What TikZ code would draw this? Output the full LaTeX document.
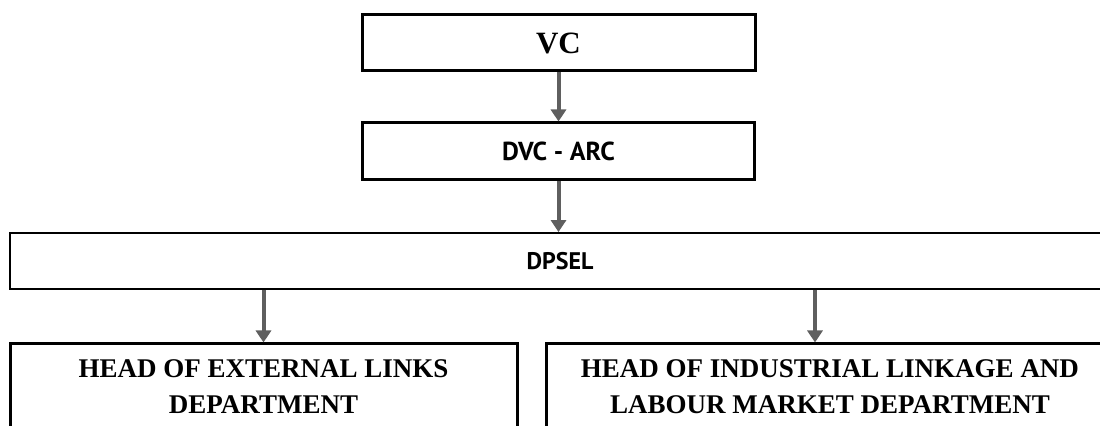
\documentclass[tikz,border=0pt]{standalone}
\usepackage{fontspec}
\setmainfont{Liberation Serif}
\newfontfamily\boxsans{PT Sans}
\usetikzlibrary{arrows.meta}
\definecolor{arrowgray}{HTML}{5F5F5F}
\begin{document}
\begin{tikzpicture}[x=0.5pt,y=-0.5pt,
  box/.style={draw, line width=1.5pt, inner sep=0pt, align=center},
  thinbox/.style={draw, line width=0.9pt, inner sep=0pt},
  link/.style={draw=arrowgray, line width=2pt, -{Triangle[length=6pt,width=7.5pt]}},
  serifhead/.style={font=\bfseries\fontsize{13.5}{18}\selectfont},
  sansbold/.style={font=\boxsans\bfseries\fontsize{13}{15}\selectfont},
  sansplain/.style={font=\boxsans\bfseries\fontsize{12}{14}\selectfont}]
\path[use as bounding box, clip] (0,0) rectangle (1100,426);
\node[box, font=\bfseries\fontsize{15.5}{18}\selectfont, minimum width=196.5pt, minimum height=28pt] (vc) at (558.5,43) {VC};
\node[box, sansbold, minimum width=196pt, minimum height=28.5pt] (dvc) at (558.5,151.5) {DVC - ARC};
\node[thinbox, sansplain, minimum width=550pt, minimum height=28pt] (dpsel) at (560,261) {DPSEL};
\node[box, serifhead, minimum width=253.5pt, minimum height=43pt] (ext) at (263.5,387) {HEAD OF EXTERNAL LINKS\\DEPARTMENT};
\node[box, serifhead, minimum width=284pt, minimum height=43pt] (ilm) at (830,387) {HEAD OF INDUSTRIAL LINKAGE AND\\LABOUR MARKET DEPARTMENT};
\coordinate (ilmtop) at ([xshift=-7.5pt]ilm.north);
\draw[link] (vc.south) -- (dvc.north);
\draw[link] (dvc.south) -- (dvc.south |- dpsel.north);
\draw[link] (ext.north |- dpsel.south) -- (ext.north);
\draw[link] (ilmtop |- dpsel.south) -- (ilmtop);
\end{tikzpicture}
\end{document}
